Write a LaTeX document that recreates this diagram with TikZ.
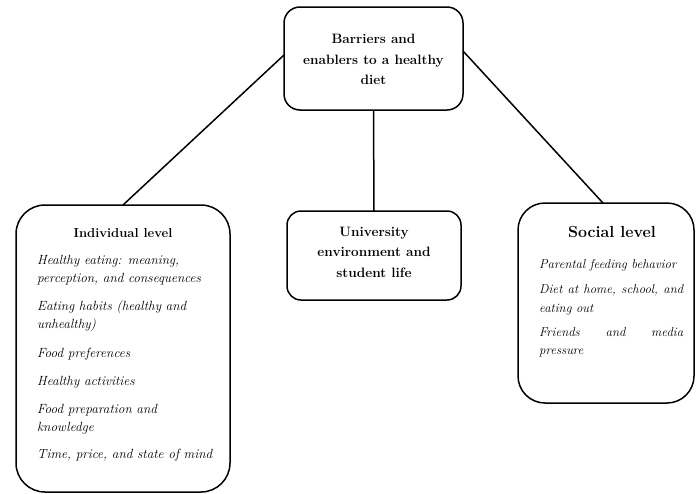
\documentclass[tikz,border=0pt]{standalone}
\usepackage{fontspec}
\begin{document}
\begin{tikzpicture}[x=1pt,y=-1pt,
  box/.style={draw, line width=1.5pt, rounded corners=#1, inner sep=0pt, outer sep=0pt},
  box/.default=15pt,
  hd/.style={font=\bfseries\fontsize{13.6}{20.5}\selectfont, align=center, inner sep=0pt},
  ttl/.style={font=\bfseries\fontsize{#1}{16}\selectfont, anchor=base, inner sep=0pt},
  itm/.style={font=\itshape\fontsize{#1}{18}\selectfont, anchor=base west, inner sep=0pt},
  itm/.default=12.8,
  link/.style={line width=1.5pt}]
\useasboundingbox (0,0) rectangle (696,493);
% boxes
\node[box=16pt, minimum width=179pt, minimum height=103pt] (top) at (373.5,58.5) {};
\node[box=14pt, minimum width=174pt, minimum height=89pt] (center) at (374,255.5) {};
\node[box=29pt, minimum width=214pt, minimum height=287pt] (left) at (123,348.5) {};
\node[box=27pt, minimum width=176pt, minimum height=200pt] (right) at (606,303) {};
% connectors
\draw[link] ([yshift=3.5pt]top.west) -- (left.north);
\draw[link] (top.south) -- (center.north);
\draw[link] ([yshift=7.5pt]top.east) -- ([xshift=-3pt]right.north);
% top and centre texts
\node[hd] (toptext) at (373.5,59.8) {Barriers and\\enablers to a healthy\\diet};
\node[hd] (centertext) at (374,252.3) {University\\environment and\\student life};
% left box
\node[ttl=13] (lefttitle) at (123,237) {Individual level};
\node[itm=13.3] (l1) at (37,264) {Healthy eating: meaning,};
\node[itm=13.3] (l2) at (37,282) {perception, and consequences};
\node[itm=13.3] (l3) at (37,310) {Eating habits (healthy and};
\node[itm=13.3] (l4) at (37,328) {unhealthy)};
\node[itm=13.3] (l5) at (37,357) {Food preferences};
\node[itm=13.3] (l6) at (37,385) {Healthy activities};
\node[itm=13.3] (l7) at (37,413) {Food preparation and};
\node[itm=13.3] (l8) at (37,431) {knowledge};
\node[itm=13.3] (l9) at (37,458) {Time, price, and state of mind};
% right box
\node[ttl=16] (righttitle) at (612,237) {Social level};
\node[itm] (r1) at (539,268) {Parental feeding behavior};
\node[itm] (r2) at (539,293) {\makebox[144pt][s]{Diet at home, school, and}};
\node[itm] (r3) at (539,312) {eating out};
\node[itm] (r4) at (539,336) {\makebox[144pt][s]{Friends and media}};
\node[itm] (r5) at (539,354) {pressure};
\end{tikzpicture}
\end{document}
